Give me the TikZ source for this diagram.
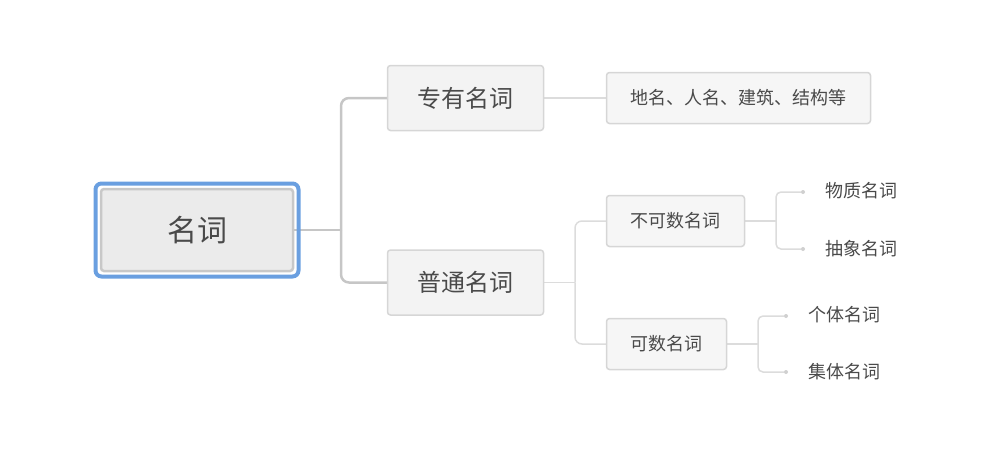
\documentclass[tikz,border=0pt]{standalone}
\usepackage{fontspec}
\newfontfamily\cjk{Noto Sans CJK SC}
\usetikzlibrary{backgrounds}
\definecolor{txt}{HTML}{4A4A4A}
\definecolor{bord}{HTML}{D6D6D6}
\definecolor{fillA}{HTML}{F3F3F3}
\definecolor{fillB}{HTML}{F6F6F6}
\definecolor{rootfill}{HTML}{EBEBEB}
\definecolor{rootgray}{HTML}{C8C8C8}
\definecolor{rootblue}{HTML}{6A9FE0}
\definecolor{connA}{HTML}{C6C6C6}
\definecolor{connB}{HTML}{DCDCDC}
\definecolor{dotc}{HTML}{D0D0D0}
\tikzset{
  rootbox/.style={draw=rootgray, line width=2.5pt, fill=rootfill, rounded corners=3pt,
    minimum width=192pt, minimum height=82pt, inner sep=0pt, text=txt, font=\cjk\fontsize{30}{36}\selectfont},
  lvone/.style={draw=bord, line width=1.5pt, fill=fillA, rounded corners=3pt,
    minimum width=156pt, minimum height=65pt, inner sep=0pt, text=txt, font=\cjk\fontsize{24}{28}\selectfont},
  lvtwo/.style={draw=bord, line width=1.5pt, fill=fillB, rounded corners=3pt,
    minimum height=51pt, inner sep=0pt, text=txt, font=\cjk\fontsize{18}{21}\selectfont},
  leaf/.style={anchor=west, inner sep=0pt, text=txt, font=\cjk\fontsize{18}{21}\selectfont},
  dotn/.style={circle, fill=dotc, minimum size=4pt, inner sep=0pt},
  cA/.style={draw=connA, line width=2.5pt},
  cB/.style={draw=connB, line width=1.5pt},
}
\begin{document}
\begin{tikzpicture}[x=1pt,y=-1pt]
\useasboundingbox (0,0) rectangle (994,472);
% nodes
\node[rootbox] (root) at (197,230) {名词};
\draw[rootblue, line width=4pt, rounded corners=6pt]
  ([shift={(-4.25,-4.25)}]root.north west) rectangle ([shift={(4.25,4.25)}]root.south east);
\node[lvone] (zy) at (465.5,98) {专有名词};
\node[lvone] (pt) at (465.5,282.5) {普通名词};
\node[lvtwo, minimum width=264pt] (dm) at (738.5,98) {地名、人名、建筑、结构等};
\node[lvtwo, minimum width=138pt] (bk) at (675.5,221) {不可数名词};
\node[lvtwo, minimum width=120pt] (ks) at (666.5,344) {可数名词};
\node[dotn] (d1) at (803,192) {};
\node[dotn] (d2) at (803,249) {};
\node[dotn] (d3) at (786,316) {};
\node[dotn] (d4) at (786,372) {};
\node[leaf] (wz) at (825,191) {物质名词};
\node[leaf] (cx) at (825,249) {抽象名词};
\node[leaf] (gt) at (808,315) {个体名词};
\node[leaf] (jt) at (808,372) {集体名词};
\coordinate (j1) at (341,230);
\coordinate (j2) at (575,282.5);
\coordinate (j3) at (776,221);
\coordinate (j4) at (758,344);
% connectors
\begin{pgfonlayer}{background}
\draw[cA] (root.east) -- (j1);
\draw[cA, rounded corners=8pt] (j1) |- (zy.west);
\draw[cA, rounded corners=8pt] (j1) |- (pt.west);
\draw[cB] (zy.east) -- (dm.west);
\draw[cB] (pt.east) -- (j2);
\draw[cB, rounded corners=7pt] (j2) |- (bk.west);
\draw[cB, rounded corners=7pt] (j2) |- (ks.west);
\draw[cB] (bk.east) -- (j3);
\draw[cB, rounded corners=5pt] (j3) |- (d1);
\draw[cB, rounded corners=5pt] (j3) |- (d2);
\draw[cB] (ks.east) -- (j4);
\draw[cB, rounded corners=5pt] (j4) |- (d3);
\draw[cB, rounded corners=5pt] (j4) |- (d4);
\end{pgfonlayer}
\end{tikzpicture}
\end{document}
